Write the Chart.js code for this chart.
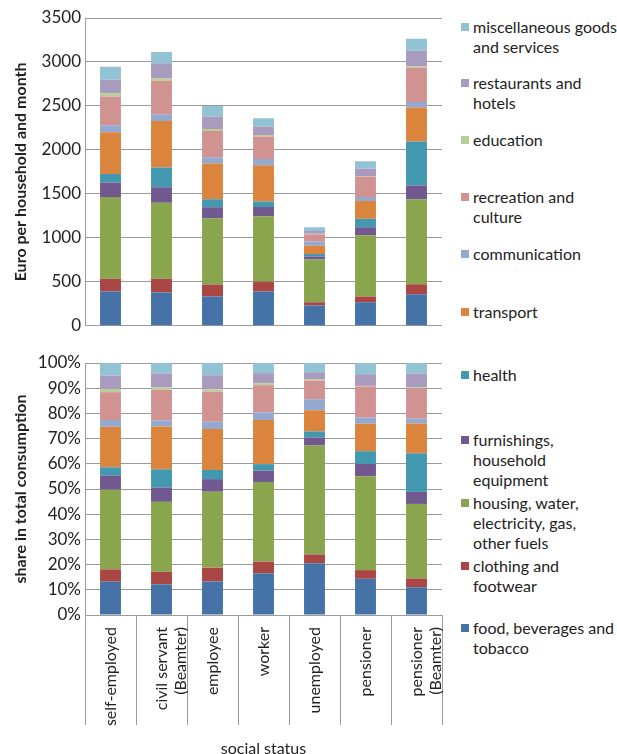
<!DOCTYPE html>
<html>
<head>
<meta charset="utf-8">
<script src="https://cdn.jsdelivr.net/npm/chart.js@4/dist/chart.umd.min.js"></script>
<style>
body { margin: 0; background: #fff; width: 617px; height: 754px; position: relative; overflow: hidden; font-family: Lato, sans-serif; }
canvas { position: absolute; left: 0; }
#topChart { top: 0; }
#bottomChart { top: 340px; }
#legend { position: absolute; left: 461px; top: 0; }
.item { position: absolute; left: 0; width: 156px; font-size: 16px; line-height: 20px; color: #222; white-space: pre-line; padding-left: 12px; }
.item span { position: absolute; left: 0; top: 6px; width: 8px; height: 8px; }
</style>
</head>
<body>
<canvas id="topChart" width="450" height="340"></canvas>
<canvas id="bottomChart" width="450" height="420"></canvas>
<div id="legend"></div>
<script>
// Data (Euro per household and month)
const categories = ['self-employed', ['civil servant', '(Beamter)'], 'employee', 'worker', 'unemployed', 'pensioner', ['pensioner', '(Beamter)']];

const food          = [390, 379, 333, 390, 230, 269, 360];
const clothing      = [144, 155, 137, 110,  39,  64, 113];
const housing       = [932, 864, 753, 746, 484, 697, 966];
const furnishings   = [163, 178, 125, 106,  36,  91, 156];
const health        = [ 98, 223,  91,  61,  27,  95, 500];
const transport     = [474, 531, 406, 413,  94, 204, 386];
const communication = [ 79,  75,  72,  72,  49,  46,  64];
const recreation    = [326, 379, 299, 254,  83, 231, 391];
const education     = [ 38,  27,  23,  18,   6,   4,  15];
const restaurants   = [155, 174, 140,  95,  31,  87, 178];
const misc          = [148, 129, 121,  95,  41,  83, 136];

const euroTicks = [0, 500, 1000, 1500, 2000, 2500, 3000, 3500];
const shareTicks = [0, 10, 20, 30, 40, 50, 60, 70, 80, 90, 100];

const seriesNames = [
    'food, beverages and\ntobacco',
    'clothing and\nfootwear',
    'housing, water,\nelectricity, gas,\nother fuels',
    'furnishings,\nhousehold\nequipment',
    'health',
    'transport',
    'communication',
    'recreation and\nculture',
    'education',
    'restaurants and\nhotels',
    'miscellaneous goods\nand services'
];
const seriesValues = [food, clothing, housing, furnishings, health, transport, communication, recreation, education, restaurants, misc];
const seriesColors = ['#4572A7', '#AA4643', '#89A54E', '#71588F', '#4198AF', '#DB843D', '#93A9CF', '#D19392', '#B9CD96', '#A99BBD', '#92C3D4'];

// legend layout (top of first line, px)
const legendTops = [618, 556, 493, 430, 365, 302, 244, 187, 130, 73, 17];

// totals per category -> shares for the lower chart
const totals = categories.map((c, i) => seriesValues.reduce((sum, s) => sum + s[i], 0));

const gridColor = '#9a9a9a';
Chart.defaults.font.family = 'Lato, sans-serif';
Chart.defaults.font.size = 16;
Chart.defaults.color = '#222';

function makeDatasets(share) {
    return seriesValues.map((vals, k) => ({
        label: seriesNames[k].replace(/\n/g, ' '),
        data: share ? vals.map((v, i) => v / totals[i] * 100) : vals,
        backgroundColor: seriesColors[k],
        borderWidth: 0,
        categoryPercentage: 1,
        barPercentage: 0.41
    }));
}

function yAxis(title, ticks, max, fmt) {
    return {
        stacked: true,
        min: 0,
        max: max,
        afterBuildTicks: s => { s.ticks = ticks.map(v => ({ value: v })); },
        afterFit: s => { s.width = 85; },
        grid: { color: gridColor, drawTicks: false },
        border: { display: true, color: gridColor },
        ticks: { padding: 4, font: { size: 17 }, callback: fmt },
        title: { display: true, text: title, font: { weight: 'bold', size: 16 }, padding: { top: 11, bottom: 0 } }
    };
}

// Upper chart: Euro
new Chart(document.getElementById('topChart'), {
    type: 'bar',
    data: { labels: categories, datasets: makeDatasets(false) },
    options: {
        responsive: false,
        animation: false,
        layout: { padding: { top: 18, right: 8, bottom: 14, left: 0 } },
        plugins: { legend: { display: false }, tooltip: { enabled: false } },
        scales: {
            x: { stacked: true, display: false },
            y: yAxis('Euro per household and month', euroTicks, 3500, v => v)
        }
    }
});

// Lower chart: share
new Chart(document.getElementById('bottomChart'), {
    type: 'bar',
    data: { labels: categories, datasets: makeDatasets(true) },
    options: {
        responsive: false,
        animation: false,
        layout: { padding: { top: 23, right: 8, bottom: 0, left: 0 } },
        plugins: { legend: { display: false }, tooltip: { enabled: false } },
        scales: {
            x: {
                stacked: true,
                afterFit: s => { s.height = 145; },
                grid: { offset: true, drawOnChartArea: false, tickLength: 110, color: gridColor },
                border: { display: true, color: gridColor },
                ticks: { minRotation: 90, maxRotation: 90, autoSkip: false, padding: -98 },
                title: { display: true, text: 'social status', padding: { top: 0, bottom: 2 } }
            },
            y: yAxis('share in total consumption', shareTicks, 100, v => v + '%')
        }
    }
});

// Legend on the right
const legend = document.getElementById('legend');
for (let k = seriesNames.length - 1; k >= 0; k--) {
    const item = document.createElement('div');
    item.className = 'item';
    item.style.top = legendTops[k] + 'px';
    item.textContent = seriesNames[k];
    const box = document.createElement('span');
    box.style.background = seriesColors[k];
    item.prepend(box);
    legend.appendChild(item);
}
</script>
</body>
</html>
